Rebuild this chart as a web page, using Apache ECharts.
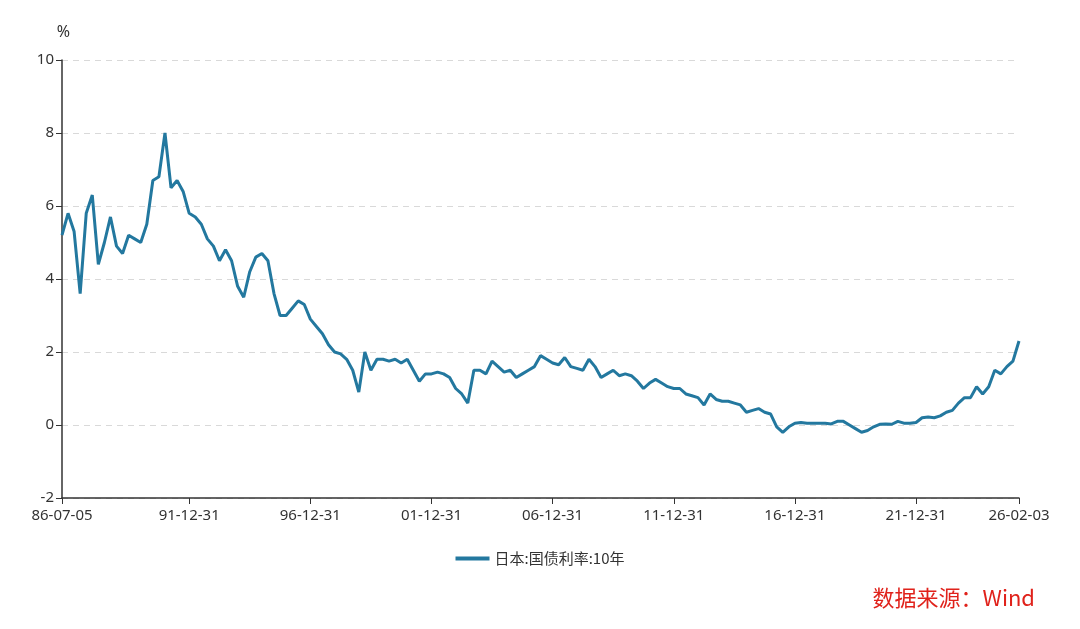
<!DOCTYPE html>
<html>
<head>
<meta charset="utf-8">
<script src="https://cdn.jsdelivr.net/npm/echarts@6/dist/echarts.min.js"></script>
<style>
  html, body { margin: 0; padding: 0; background: #fff; }
  #chart { width: 1080px; height: 629px; }
</style>
</head>
<body>
<div id="chart"></div>
<script>
// quarterly readings of the 10y JGB yield, 1986Q3 .. 2026-02-03
const yields = [
  5.2, 5.8, 5.3, 3.6, 5.8, 6.3, 4.4, 5.0, 5.7, 4.9,
  4.7, 5.2, 5.1, 5.0, 5.5, 6.7, 6.8, 8.0, 6.5, 6.7,
  6.4, 5.8, 5.7, 5.5, 5.1, 4.9, 4.5, 4.8, 4.5, 3.8,
  3.5, 4.2, 4.6, 4.7, 4.5, 3.6, 3.0, 3.0, 3.2, 3.4,
  3.3, 2.9, 2.7, 2.5, 2.2, 2.0, 1.95, 1.8, 1.5, 0.9,
  2.0, 1.5, 1.8, 1.8, 1.75, 1.8, 1.7, 1.8, 1.5, 1.2,
  1.4, 1.4, 1.45, 1.4, 1.3, 1.0, 0.85, 0.6, 1.5, 1.5,
  1.4, 1.75, 1.6, 1.45, 1.5, 1.3, 1.4, 1.5, 1.6, 1.9,
  1.8, 1.7, 1.65, 1.85, 1.6, 1.55, 1.5, 1.8, 1.6, 1.3,
  1.4, 1.5, 1.35, 1.4, 1.35, 1.2, 1.0, 1.15, 1.25, 1.15,
  1.05, 1.0, 1.0, 0.85, 0.8, 0.75, 0.55, 0.85, 0.7, 0.65,
  0.65, 0.6, 0.55, 0.35, 0.4, 0.45, 0.35, 0.3, -0.05, -0.2,
  -0.05, 0.05, 0.07, 0.05, 0.05, 0.05, 0.05, 0.03, 0.1, 0.1,
  0.0, -0.1, -0.2, -0.15, -0.05, 0.02, 0.03, 0.02, 0.1, 0.05,
  0.05, 0.07, 0.2, 0.22, 0.2, 0.25, 0.35, 0.4, 0.6, 0.75,
  0.75, 1.05, 0.85, 1.05, 1.5, 1.4, 1.6, 1.75, 2.3
];
const tickLabels = ['86-07-05', '91-12-31', '96-12-31', '01-12-31', '06-12-31',
  '11-12-31', '16-12-31', '21-12-31', '26-02-03'];
const yTicks = [-2, 0, 2, 4, 6, 8, 10];
const seriesName = '日本:国债利率:10年';

// quarter-end dates as categories
const qEnds = ['03-31', '06-30', '09-30', '12-31'];
const dates = [];
for (let i = 0; i < yields.length; i++) {
  if (i === 0) { dates.push('86-07-05'); continue; }
  if (i === yields.length - 1) { dates.push('26-02-03'); continue; }
  const q = i + 2; // 1986Q3 is quarter index 2 of 1986
  const yr = (1986 + Math.floor(q / 4)) % 100;
  dates.push(String(yr).padStart(2, '0') + '-' + qEnds[q % 4]);
}
const showTick = (idx, val) => tickLabels.indexOf(val) >= 0;

const chart = echarts.init(document.getElementById('chart'));
chart.setOption({
  animation: false,
  textStyle: { fontFamily: 'Noto Sans, Noto Sans CJK SC, sans-serif' },
  grid: { left: 62, right: 61, top: 60, bottom: 131 },
  legend: {
    bottom: 58, left: 'center',
    data: [seriesName],
    itemWidth: 34, itemHeight: 4,
    icon: 'rect',
    textStyle: { fontSize: 15, color: '#333', fontFamily: 'Noto Sans CJK SC' }
  },
  graphic: [{
    type: 'text', right: 45, bottom: 20,
    style: { text: '数据来源：Wind', fill: '#e0221b', fontSize: 22,
      fontFamily: 'Noto Sans CJK SC' }
  }],
  xAxis: {
    type: 'category',
    data: dates,
    boundaryGap: false,
    axisLine: { onZero: false, lineStyle: { color: '#333', width: 1.5 } },
    axisTick: { interval: showTick, length: 6, lineStyle: { color: '#333' } },
    axisLabel: { interval: showTick, fontSize: 15, color: '#333', margin: 10 },
    splitLine: { show: false }
  },
  yAxis: {
    type: 'value',
    name: '%', nameGap: 20,
    nameTextStyle: { fontSize: 16, color: '#333', align: 'right', padding: [0, -8, 0, 0] },
    min: yTicks[0], max: yTicks[yTicks.length - 1], interval: 2,
    axisLine: { show: true, lineStyle: { color: '#333', width: 1.5 } },
    axisTick: { show: true, length: 6, lineStyle: { color: '#333' } },
    axisLabel: { fontSize: 15, color: '#333' },
    splitLine: { lineStyle: { color: '#d9d9d9', type: [6, 5] } }
  },
  series: [{
    name: seriesName,
    type: 'line',
    data: yields,
    showSymbol: false,
    lineStyle: { color: '#23789f', width: 3 },
    itemStyle: { color: '#23789f' }
  }]
});
</script>
</body>
</html>
